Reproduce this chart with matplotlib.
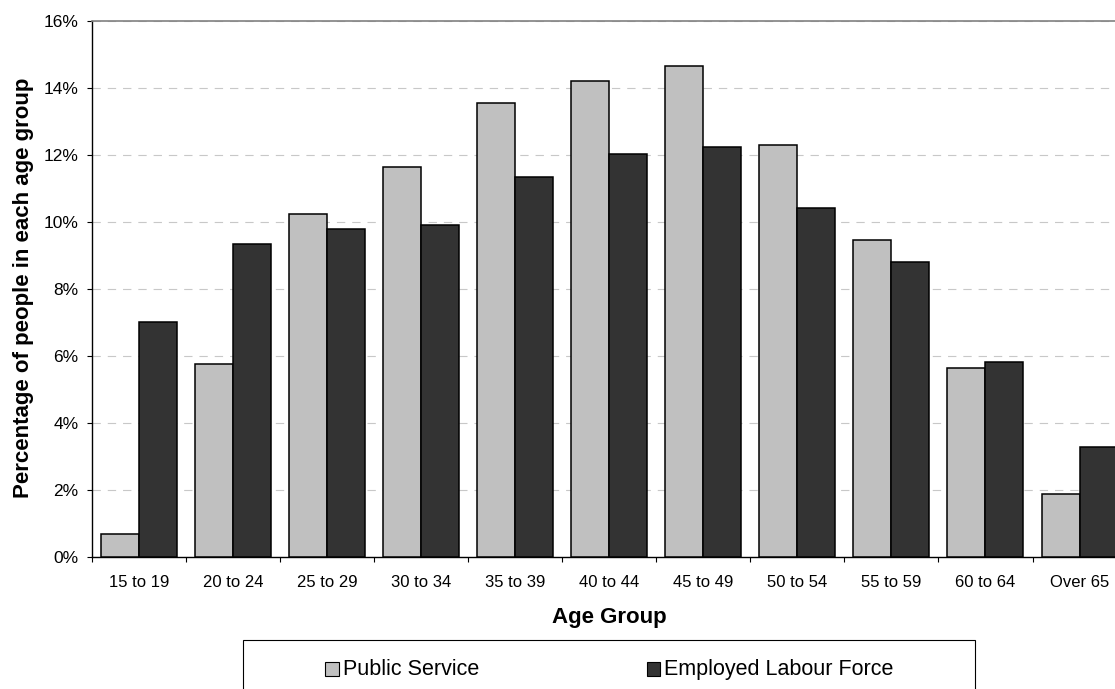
import numpy as np
import matplotlib
matplotlib.use("Agg")
import matplotlib.pyplot as plt
from matplotlib.patches import Rectangle

plt.rcParams["font.family"] = ["Liberation Sans", "DejaVu Sans"]
plt.rcParams["lines.scale_dashes"] = False

# Age distribution (% of people in each age group)
categories = ["15 to 19", "20 to 24", "25 to 29", "30 to 34", "35 to 39", "40 to 44",
              "45 to 49", "50 to 54", "55 to 59", "60 to 64", "Over 65"]
public_service = [0.70, 5.77, 10.23, 11.63, 13.55, 14.21, 14.66, 12.31, 9.47, 5.65, 1.90]
employed_labour_force = [7.01, 9.36, 9.80, 9.90, 11.36, 12.03, 12.24, 10.42, 8.81, 5.83, 3.30]
y_ticks = [0, 2, 4, 6, 8, 10, 12, 14, 16]
y_tick_labels = ["0%", "2%", "4%", "6%", "8%", "10%", "12%", "14%", "16%"]
series_names = ["Public Service", "Employed Labour Force"]
series_colors = ["#c0c0c0", "#333333"]

W, H = 1115, 689
fig = plt.figure(figsize=(W / 100, H / 100), dpi=100)


def fx(px):
    return px / W


def fy(py):
    return 1 - py / H


ax_left, ax_right, ax_top, ax_bottom = 91.7, 1126.6, 21.0, 557.3
ax = fig.add_axes([fx(ax_left), fy(ax_bottom), (ax_right - ax_left) / W, (ax_bottom - ax_top) / H])

x = np.arange(len(categories))
w = 0.404
ax.bar(x - w / 2, public_service, w, color=series_colors[0], edgecolor="black", linewidth=1.1, zorder=3)
ax.bar(x + w / 2, employed_labour_force, w, color=series_colors[1], edgecolor="black", linewidth=1.1, zorder=3)

ax.set_xlim(-0.5, len(categories) - 0.5)
ax.set_ylim(0, 16)
ax.set_yticks(y_ticks)
ax.set_yticklabels(y_tick_labels)

# major x ticks at category boundaries, labels at centres
ax.set_xticks(np.arange(-0.5, len(categories), 1))
ax.set_xticklabels([])
ax.set_xticks(x, minor=True)
ax.set_xticklabels(categories, minor=True)
ax.tick_params(axis="x", which="major", length=3.6, width=0.8, direction="out", color="black")
ax.tick_params(axis="x", which="minor", length=0, pad=12.8, labelsize=12)
ax.tick_params(axis="y", which="major", length=3.6, width=0.8, direction="out", pad=6, labelsize=12.5)

ax.set_axisbelow(True)
ax.yaxis.grid(True, color="#c8c8c8", linestyle=(0, (6, 5)), linewidth=0.8)

ax.spines["right"].set_visible(False)
ax.spines["top"].set_color("#808080")
ax.spines["top"].set_linewidth(1.2)
ax.spines["left"].set_linewidth(1.0)
ax.spines["bottom"].set_linewidth(1.0)

fig.text(fx(24), fy(288), "Percentage of people in each age group", rotation=90,
         ha="center", va="center", fontsize=16, fontweight="bold")
fig.text(fx(609), fy(623), "Age Group", ha="center", va="baseline", fontsize=16, fontweight="bold")

# legend box along the bottom
fig.add_artist(Rectangle((fx(242.7), fy(700)), (975 - 242.7) / W, (700 - 640) / H,
                         transform=fig.transFigure, fill=False, edgecolor="black", linewidth=0.8))
legend_square_x = [325, 646.5]
legend_text_x = [343, 664]
for name, color, sx, tx in zip(series_names, series_colors, legend_square_x, legend_text_x):
    fig.add_artist(Rectangle((fx(sx), fy(675.7)), 14 / W, 14 / H, transform=fig.transFigure,
                             facecolor=color, edgecolor="black", linewidth=0.8))
    fig.text(fx(tx), fy(675), name, ha="left", va="baseline", fontsize=15.5)

fig.savefig("out.png", dpi=100)
